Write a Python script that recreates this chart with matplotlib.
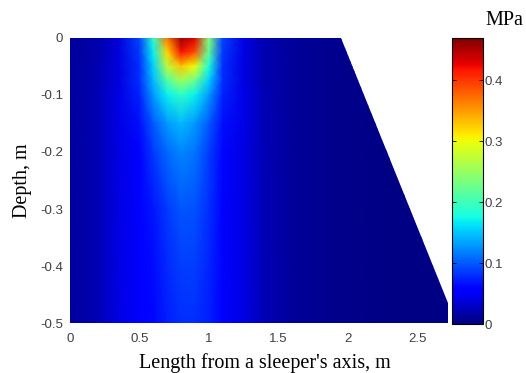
import numpy as np
import matplotlib
matplotlib.use("Agg")
import matplotlib.pyplot as plt
from matplotlib.patches import Polygon

# ---- data (MPa) ----
x_nodes = [0.0, 0.2, 0.35, 0.5, 0.6, 0.7, 0.8, 0.9, 1.0, 1.1, 1.25, 1.4, 1.6, 1.9, 2.3, 2.75]
depth_nodes = [0.0, -0.025, -0.05, -0.075, -0.1, -0.15, -0.2, -0.3, -0.4, -0.5]
stress = [
    [0.012, 0.02, 0.038, 0.09, 0.19, 0.37, 0.46, 0.43, 0.24, 0.09, 0.042, 0.022, 0.012, 0.006, 0.003, 0.002],
    [0.012, 0.02, 0.038, 0.085, 0.17, 0.32, 0.42, 0.39, 0.22, 0.085, 0.042, 0.022, 0.012, 0.006, 0.003, 0.002],
    [0.012, 0.021, 0.039, 0.08, 0.155, 0.27, 0.33, 0.30, 0.18, 0.08, 0.042, 0.022, 0.012, 0.006, 0.003, 0.002],
    [0.012, 0.022, 0.04, 0.08, 0.145, 0.21, 0.255, 0.225, 0.155, 0.08, 0.042, 0.022, 0.012, 0.006, 0.003, 0.002],
    [0.012, 0.023, 0.041, 0.075, 0.13, 0.17, 0.19, 0.17, 0.13, 0.075, 0.043, 0.023, 0.012, 0.006, 0.003, 0.002],
    [0.012, 0.023, 0.042, 0.065, 0.1, 0.13, 0.145, 0.13, 0.1, 0.066, 0.043, 0.023, 0.012, 0.006, 0.003, 0.002],
    [0.012, 0.023, 0.042, 0.058, 0.085, 0.107, 0.12, 0.112, 0.088, 0.061, 0.042, 0.023, 0.012, 0.006, 0.003, 0.002],
    [0.012, 0.023, 0.041, 0.055, 0.068, 0.085, 0.098, 0.096, 0.08, 0.06, 0.041, 0.023, 0.012, 0.006, 0.003, 0.002],
    [0.012, 0.023, 0.041, 0.054, 0.064, 0.078, 0.088, 0.088, 0.076, 0.059, 0.041, 0.023, 0.012, 0.006, 0.003, 0.002],
    [0.012, 0.023, 0.041, 0.053, 0.062, 0.073, 0.08, 0.08, 0.072, 0.058, 0.041, 0.023, 0.012, 0.006, 0.003, 0.002],
]
domain_x = [0.0, 1.95, 2.72, 2.72, 0.0]
domain_y = [0.0, 0.0, -0.465, -0.5, -0.5]
x_ticks = [0, 0.5, 1, 1.5, 2, 2.5]
x_ticklabels = ["0", "0.5", "1", "1.5", "2", "2.5"]
y_ticks = [0, -0.1, -0.2, -0.3, -0.4, -0.5]
y_ticklabels = ["0", "-0.1", "-0.2", "-0.3", "-0.4", "-0.5"]
cb_ticks = [0, 0.1, 0.2, 0.3, 0.4]
cb_ticklabels = ["0", "0.1", "0.2", "0.3", "0.4"]
vmax = 0.47

fig = plt.figure(figsize=(5.26, 3.73), dpi=100)
ax = fig.add_axes([0.133, 0.133, 0.718, 0.766])

X, Y = np.meshgrid(x_nodes, depth_nodes)
Z = np.array(stress)
mesh = ax.pcolormesh(X, Y, Z, shading="gouraud", cmap="jet", vmin=0, vmax=vmax)
poly = Polygon(np.column_stack([domain_x, domain_y]), closed=True,
               facecolor="none", edgecolor="none", transform=ax.transData)
ax.add_patch(poly)
mesh.set_clip_path(poly)

ax.set_xlim(0, 2.72)
ax.set_ylim(-0.5, 0)
for s in ax.spines.values():
    s.set_visible(False)
tick_font = dict(family="Liberation Sans", size=9.5, color="#404040")
ax.set_xticks(x_ticks)
ax.set_xticklabels(x_ticklabels, fontdict=tick_font)
ax.set_yticks(y_ticks)
ax.set_yticklabels(y_ticklabels, fontdict=tick_font)
ax.tick_params(axis="x", length=0, pad=7)
ax.tick_params(axis="y", length=0, pad=5)
ax.set_xlabel("Length from a sleeper's axis, m", family="Liberation Serif", size=14.5)
ax.xaxis.set_label_coords(0.516, -0.138)
ax.xaxis.label.set_va("center")
ax.set_ylabel("Depth, m", family="Liberation Serif", size=14.5, labelpad=6)

cax = fig.add_axes([0.859, 0.131, 0.059, 0.768])
cb = fig.colorbar(mesh, cax=cax)
cb.set_ticks(cb_ticks)
cb.set_ticklabels(cb_ticklabels)
for t in cax.get_yticklabels():
    t.set_family("Liberation Sans")
    t.set_fontsize(9.5)
    t.set_color("#404040")
cax.tick_params(direction="in", length=3, width=0.6, left=True, right=True, pad=1)
cb.outline.set_linewidth(0.8)
fig.text(0.922, 0.945, "MPa", family="Liberation Serif", size=14.5, ha="left", va="center")

fig.savefig("out.png", dpi=100)
